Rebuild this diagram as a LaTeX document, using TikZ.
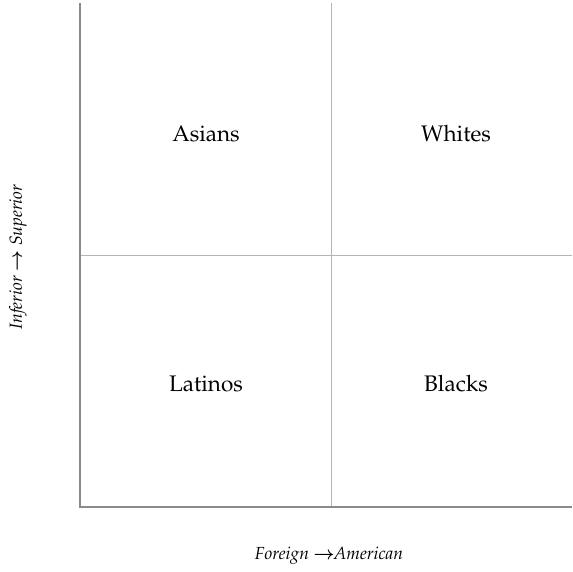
\documentclass[tikz,border=0pt]{standalone}
\usepackage[T1]{fontenc}
\usepackage{amsmath}
\usepackage{mathpazo}
\usepackage{bm}
\definecolor{axisgray}{HTML}{8A8A8A}
\definecolor{gridgray}{HTML}{B4B4B4}
\tikzset{
  axisline/.style={draw=axisgray, line width=1.5pt},
  gridline/.style={draw=gridgray, line width=1pt},
  quad/.style={font=\fontsize{22.5}{26}\selectfont, inner sep=0pt},
  axlabel/.style={font=\fontsize{17.5}{20}\selectfont\itshape, inner sep=0pt}
}
\begin{document}
\begin{tikzpicture}[x=1pt,y=-1pt]
\useasboundingbox (0,0) rectangle (572,572);
\coordinate (tl) at (80,3);
\coordinate (o) at (80,507);
\coordinate (br) at (572,507);
\coordinate (mt) at (331,3);
\coordinate (mb) at (331,507);
\coordinate (ml) at (80,255);
\coordinate (mr) at (572,255);
\draw[gridline] (mt) -- (mb);
\draw[gridline] (ml) -- (mr);
\draw[axisline] (tl) -- (o) -- (br);
\node[quad] (asians) at (206,134) {Asians};
\node[quad] (whites) at (456,134) {Whites};
\node[quad] (latinos) at (206,384) {Latinos};
\node[quad] (blacks) at (456,384) {Blacks};
\node[axlabel] (xlab) at (329,556) {Foreign $\bm{\rightarrow}$\kern-1pt American};
\node[axlabel, rotate=90] (ylab) at (18,257) {Inferior $\bm{\rightarrow}$ Superior};
\end{tikzpicture}
\end{document}
